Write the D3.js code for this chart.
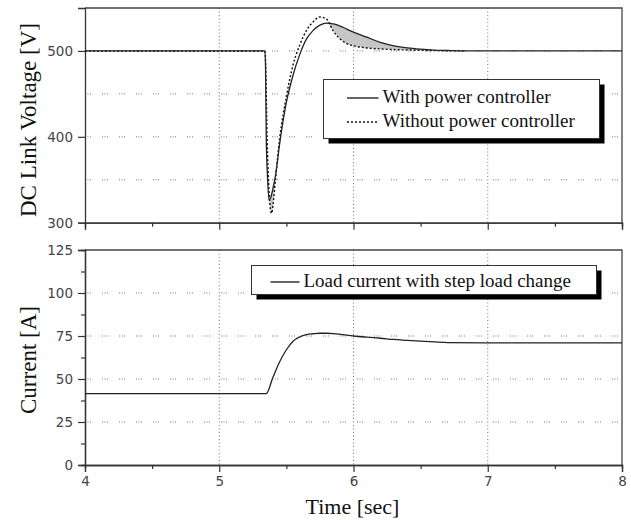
<!DOCTYPE html>
<html>
<head>
<meta charset="utf-8">
<script src="https://cdn.jsdelivr.net/npm/d3@7"></script>
<style>
  body { margin: 0; background: #fff; }
</style>
</head>
<body>
<div class="container"></div>
<script>
// time grid shared by both voltage traces
var timeV = [4, 5.34, 5.345, 5.35, 5.36, 5.37, 5.38, 5.39, 5.40, 5.42, 5.45, 5.5, 5.55, 5.6, 5.65, 5.7, 5.75, 5.8, 5.85, 5.9, 5.95, 6.0, 6.1, 6.2, 6.3, 6.4, 6.5, 6.6, 6.7, 6.82, 8];
var voltWith = [500, 500, 478, 400, 352, 327, 328, 333, 340, 356, 392, 440, 472, 496, 514, 524, 530, 532.5, 531.5, 529, 525.5, 522, 516, 510, 506, 503.5, 502, 501, 500.5, 500, 500];
var voltWithout = [500, 500, 490, 450, 380, 340, 317, 311, 320, 352, 398, 447, 484, 507, 524, 534, 539.5, 537, 523, 514, 508.5, 506, 503.5, 502.3, 501.6, 501.1, 500.7, 500.4, 500.2, 500, null];

var timeI = [4, 5.35, 5.4, 5.45, 5.5, 5.55, 5.6, 5.65, 5.7, 5.75, 5.8, 5.85, 5.9, 6.0, 6.1, 6.2, 6.3, 6.4, 6.5, 6.6, 6.7, 7.0, 8];
var loadCurrent = [41.5, 41.5, 51, 60, 67, 72, 74.5, 75.8, 76.3, 76.6, 76.6, 76.4, 76, 75, 74.3, 73.7, 73, 72.5, 72, 71.6, 71.2, 71, 71];

var timeTicks = [4, 5, 6, 7, 8];
var voltTicks = [300, 400, 500];
var voltGrid = [350, 400, 450, 500];
var currentTicks = [0, 25, 50, 75, 100, 125];
var currentGrid = [25, 50, 75, 100];

var voltLegend = ["With power controller", "Without power controller"];
var currentLegend = ["Load current with step load change"];

/* ===== SET UP CHART ===== */
var W = 631, H = 520;
var left = 85, right = 622;
var serif = "'Liberation Serif', 'Times New Roman', serif";
var sans = "'DejaVu Sans', Verdana, sans-serif";

var svg = d3.select('.container')
  .append('svg')
  .attr('width', W)
  .attr('height', H);

var x = d3.scaleLinear().domain([4, 8]).range([left, right]);
var yV = d3.scaleLinear().domain([300, 550]).range([222.7, 8]);
var yI = d3.scaleLinear().domain([0, 125]).range([465, 250]);

var vData = timeV.map(function(t, i) {
  return {t: t, w: voltWith[i], wo: voltWithout[i]};
});
var iData = timeI.map(function(t, i) { return {t: t, v: loadCurrent[i]}; });

function drawFrame(y, yTicks, yMinor, grid, labelY) {
  var top = y.range()[1], bottom = y.range()[0];
  var g = svg.append('g');

  // dotted grid
  g.selectAll('.hg').data(grid).enter().append('line')
    .attr('x1', left).attr('x2', right)
    .attr('y1', function(d) { return y(d); })
    .attr('y2', function(d) { return y(d); })
    .attr('stroke', '#777').attr('stroke-width', 1)
    .attr('stroke-dasharray', '1,1.5,1,1.5,1,11');
  g.selectAll('.vg').data([5, 6, 7]).enter().append('line')
    .attr('x1', function(d) { return x(d); })
    .attr('x2', function(d) { return x(d); })
    .attr('y1', top).attr('y2', bottom)
    .attr('stroke', '#777').attr('stroke-width', 1)
    .attr('stroke-dasharray', '1,2.5');

  // top + right border
  g.append('path')
    .attr('d', 'M' + left + ',' + top + 'H' + right + 'V' + bottom)
    .attr('fill', 'none').attr('stroke', '#444').attr('stroke-width', 1.3);

  // axes
  var xAxis = d3.axisBottom(x).tickValues(timeTicks).tickSize(7)
    .tickFormat(labelY ? d3.format('d') : '').tickPadding(4);
  var xMinor = d3.axisBottom(x).tickValues([4.5, 5.5, 6.5, 7.5]).tickSize(4).tickFormat('');
  var yAxis = d3.axisLeft(y).tickValues(yTicks).tickSize(7).tickPadding(5);

  [xAxis, xMinor].forEach(function(ax) {
    g.append('g')
      .attr('transform', 'translate(0,' + bottom + ')')
      .call(ax);
  });
  g.append('g').attr('transform', 'translate(' + left + ',0)').call(yAxis);
  if (yMinor) {
    g.append('g').attr('transform', 'translate(' + left + ',0)')
      .call(d3.axisLeft(y).tickValues(yMinor).tickSize(4).tickFormat(''));
  }

  g.selectAll('.domain').attr('stroke', '#333').attr('stroke-width', 1.3);
  g.selectAll('.tick line').attr('stroke', '#333').attr('stroke-width', 1.2);
  g.selectAll('.tick text')
    .style('font-family', sans).style('font-size', '13.5px').attr('fill', '#444');
  return g;
}

drawFrame(yV, voltTicks, null, voltGrid, false);
drawFrame(yI, currentTicks, [12.5, 37.5, 62.5, 87.5, 112.5], currentGrid, true);

/* ===== TRACES ===== */
var shade = d3.area()
  .defined(function(d) { return d.wo != null; })
  .x(function(d) { return x(d.t); })
  .y0(function(d) { return yV(Math.min(d.w, d.wo)); })
  .y1(function(d) { return yV(d.w); })
  .curve(d3.curveMonotoneX);

svg.append('path').datum(vData)
  .attr('d', shade)
  .attr('fill', '#c6c6c6');

var lineWith = d3.line()
  .x(function(d) { return x(d.t); })
  .y(function(d) { return yV(d.w); })
  .curve(d3.curveMonotoneX);
var lineWithout = d3.line()
  .defined(function(d) { return d.wo != null; })
  .x(function(d) { return x(d.t); })
  .y(function(d) { return yV(d.wo); })
  .curve(d3.curveMonotoneX);

svg.append('path').datum(vData)
  .attr('d', lineWithout)
  .attr('fill', 'none').attr('stroke', '#111').attr('stroke-width', 1.4)
  .attr('stroke-dasharray', '2,2');
svg.append('path').datum(vData)
  .attr('d', lineWith)
  .attr('fill', 'none').attr('stroke', '#222').attr('stroke-width', 1.3);

var lineI = d3.line()
  .x(function(d) { return x(d.t); })
  .y(function(d) { return yI(d.v); })
  .curve(d3.curveMonotoneX);

svg.append('path').datum(iData)
  .attr('d', lineI)
  .attr('fill', 'none').attr('stroke', '#222').attr('stroke-width', 1.3);

/* ===== LEGENDS ===== */
function legend(bx, by, bw, bh, labels, dashes, rowY) {
  var g = svg.append('g');
  g.append('rect').attr('x', bx + 5).attr('y', by + 5).attr('width', bw).attr('height', bh)
    .attr('fill', '#000');
  g.append('rect').attr('x', bx).attr('y', by).attr('width', bw).attr('height', bh)
    .attr('fill', '#fff').attr('stroke', '#333').attr('stroke-width', 1);
  labels.forEach(function(lab, i) {
    var yy = by + rowY[i];
    g.append('line')
      .attr('x1', bx + rowY.sx).attr('x2', bx + rowY.ex)
      .attr('y1', yy - 5).attr('y2', yy - 5)
      .attr('stroke', '#111').attr('stroke-width', 1.3)
      .attr('stroke-dasharray', dashes[i]);
    g.append('text')
      .attr('x', bx + rowY.ex + 4).attr('y', yy)
      .style('font-family', serif).style('font-size', '19px')
      .attr('fill', '#111')
      .text(lab);
  });
}

var rowsV = [23.5, 47.5]; rowsV.sx = 23.5; rowsV.ex = 55;
legend(323.5, 79.5, 276, 59, voltLegend, [null, '2,2'], rowsV);
var rowsI = [21.5]; rowsI.sx = 19; rowsI.ex = 48;
legend(251.5, 265.5, 345, 29, currentLegend, [null], rowsI);

/* ===== LABELS ===== */
svg.append('text')
  .attr('transform', 'translate(36,120) rotate(-90)')
  .style('text-anchor', 'middle')
  .style('font-family', serif).style('font-size', '23px')
  .attr('fill', '#111')
  .text('DC Link Voltage [V]');

svg.append('text')
  .attr('transform', 'translate(36,360) rotate(-90)')
  .style('text-anchor', 'middle')
  .style('font-family', serif).style('font-size', '23px')
  .attr('fill', '#111')
  .text('Current [A]');

svg.append('text')
  .attr('x', x(6) - 1).attr('y', 514)
  .style('text-anchor', 'middle')
  .style('font-family', serif).style('font-size', '22px')
  .attr('fill', '#111')
  .text('Time [sec]');
</script>
</body>
</html>
